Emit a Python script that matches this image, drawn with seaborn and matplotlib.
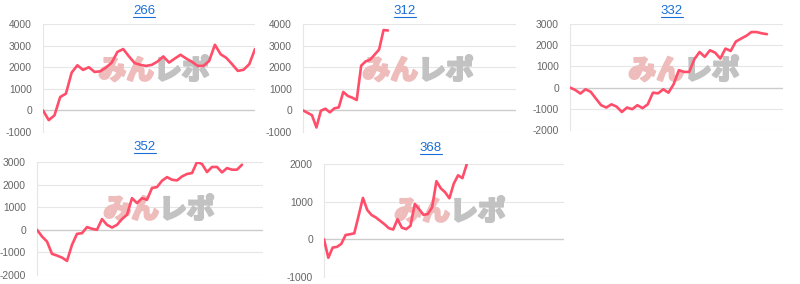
import matplotlib
matplotlib.use("Agg")
import matplotlib.pyplot as plt
import matplotlib.patheffects as pe
import seaborn as sns
import pandas as pd
from matplotlib.lines import Line2D

# ---------------- data ----------------
titles = ["266", "312", "332", "352", "368"]

s266 = [0, -450, -230, 620, 775, 1750, 2090, 1875, 2000, 1780, 1810, 1985, 2215,
        2710, 2840, 2500, 2190, 2110, 2060, 2110, 2265, 2500, 2215, 2400, 2575,
        2400, 2250, 2060, 2060, 2290, 3040, 2600, 2430, 2140, 1830, 1880, 2140, 2840]
s312 = [0, -110, -220, -790, -15, 80, -90, 95, 140, 855, 670, 590, 480, 2070,
        2270, 2350, 2580, 2815, 3720, 3700]
s332 = [0, -110, -280, -80, -200, -520, -830, -940, -790, -900, -1150, -940, -1020,
        -830, -970, -790, -240, -270, -80, -240, 160, 820, 740, 740, 1340, 1680,
        1450, 1760, 1650, 1370, 1840, 1730, 2170, 2310, 2440, 2620, 2620, 2560, 2520]
s352 = [0, -295, -520, -1065, -1140, -1230, -1375, -665, -180, -150, 120, 45, 0,
        475, 220, 100, 220, 475, 665, 1400, 1180, 1400, 1330, 1850, 1890, 2170,
        2330, 2215, 2185, 2360, 2470, 2510, 3000, 2910, 2555, 2780, 2780, 2540,
        2730, 2660, 2660, 2880]
s368 = [0, -490, -220, -200, -120, 115, 135, 160, 625, 1100, 780, 645, 580, 490,
        400, 295, 260, 535, 310, 270, 360, 940, 800, 650, 670, 850, 1545, 1355,
        1250, 1090, 1475, 1700, 1625, 1990]

series = [s266, s312, s332, s352, s368]
ylims = [(-1000, 4000), (-1000, 4000), (-2000, 3000), (-2000, 3000), (-1000, 2000)]

# ---------------- layout (pixels) ----------------
W, H = 800, 284
boxes = [(43, 24, 255, 132), (303, 24, 516, 132), (570, 24, 783, 130),
         (37, 162, 263, 275), (324, 164, 564, 277)]
xmaxs = [37, 47.6, 41.1, 45.2, 55.5]
title_pos = [(144, 11), (405, 11), (672, 11), (145, 147), (431, 148)]
wm_center = [(154, 71), (418, 71), (684, 71), (159, 210), (450, 212)]

LINE = "#ff4d6a"
TITLE = "#1a6fd6"
GRID = "#e6e6e6"
ZERO = "#cccccc"
PINK = "#efbcbc"
GREY = "#c2c2c2"

sns.set_style("white")
plt.rcParams["font.family"] = ["Liberation Sans", "DejaVu Sans"]

fig = plt.figure(figsize=(W / 100, H / 100), dpi=100)
fig.patch.set_facecolor("white")

for i, (vals, (x0, y0, x1, y1)) in enumerate(zip(series, boxes)):
    ax = fig.add_axes([x0 / W, 1 - y1 / H, (x1 - x0) / W, (y1 - y0) / H])
    df = pd.DataFrame({"idx": range(len(vals)), "val": vals})
    lo, hi = ylims[i]
    ticks = list(range(lo, hi + 1, 1000))
    for t in ticks:
        ax.axhline(t, color=ZERO if t == 0 else GRID, lw=1.0 if t == 0 else 0.8, zorder=0)
    sns.lineplot(data=df, x="idx", y="val", ax=ax, color=LINE, lw=1.9, zorder=3)
    ax.set_xlim(0, xmaxs[i])
    ax.set_ylim(lo, hi)
    ax.set_yticks(ticks)
    ax.set_yticklabels([str(t) for t in ticks])
    ax.set_xticks([])
    ax.set_xlabel("")
    ax.set_ylabel("")
    ax.tick_params(axis="y", length=6, color=GRID, width=0.8, pad=2,
                   labelsize=7.4, labelcolor="#666666")
    for s in ["top", "right", "bottom"]:
        ax.spines[s].set_visible(False)
    ax.spines["left"].set_color(GRID)
    ax.spines["left"].set_linewidth(0.8)
    ax.patch.set_alpha(0)

    # watermark (drawn inside the axes, beneath the line)
    cx, cy = wm_center[i]
    for txt, col, ha in [("みん", PINK, "right"), ("レポ", GREY, "left")]:
        ax.text(cx / W, 1 - cy / H, txt, color=col, fontsize=20, fontweight="heavy",
                family=["Noto Sans CJK JP", "DejaVu Sans"], ha=ha, va="center",
                transform=fig.transFigure, zorder=1,
                path_effects=[pe.withStroke(linewidth=1.4, foreground=col)])

# titles with underline
title_texts = []
for t, (tx, ty) in zip(titles, title_pos):
    title_texts.append(fig.text(tx / W, 1 - ty / H, t, color=TITLE, fontsize=9.5,
                                ha="center", va="center"))

fig.canvas.draw()
r = fig.canvas.get_renderer()
for tt in title_texts:
    bb = tt.get_window_extent(renderer=r)
    yline = bb.y0 + 0.5
    fig.add_artist(Line2D([bb.x0 / W, bb.x1 / W], [yline / H, yline / H],
                          color=TITLE, lw=0.8, transform=fig.transFigure))

fig.savefig("out.png", dpi=100, facecolor="white")
